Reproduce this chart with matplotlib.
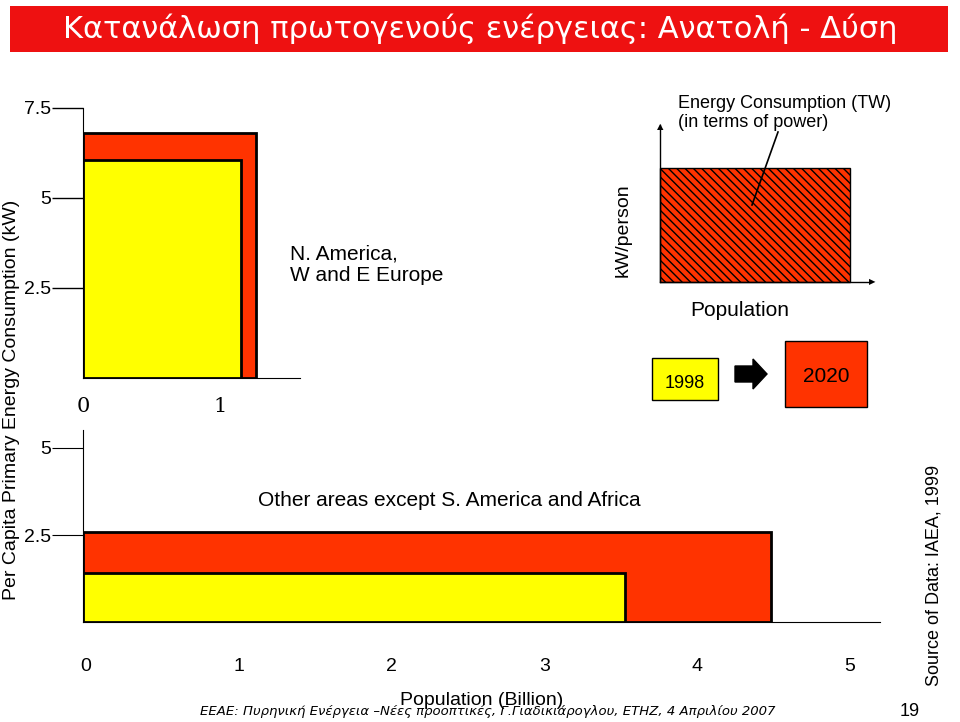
import matplotlib
matplotlib.use("Agg")
import matplotlib.pyplot as plt
from matplotlib.patches import Rectangle, FancyArrow
plt.rcParams["font.family"] = "Liberation Sans"

# data
top_red = (1.26, 6.8)      # width (billion), kW/person  (2020)
top_yel = (1.15, 6.05)     # 1998
bot_red = (4.48, 2.6)
bot_yel = (3.53, 1.4)
RED, YEL = "#ff3300", "#ffff00"

W, H = 960, 722
fig = plt.figure(figsize=(9.6, 7.22), dpi=100)
def fx(x): return x / W
def fy(y): return 1 - y / H

# title
fig.patches.append(Rectangle((fx(10), fy(52)), fx(938), 46 / H, transform=fig.transFigure,
                             facecolor="#ee1111", edgecolor="none"))
fig.text(fx(480), fy(29), "Κατανάλωση πρωτογενούς ενέργειας: Ανατολή - Δύση",
         color="white", fontsize=22, ha="center", va="center", family="DejaVu Sans")

# top axes
ax1 = fig.add_axes([fx(83), fy(378), fx(300 - 83), (378 - 108) / H])
ax1.set_xlim(0, (300 - 83) / 137)
ax1.set_ylim(0, 7.5)
ax1.add_patch(Rectangle((0, 0), *top_red, facecolor=RED, edgecolor="black", lw=2))
ax1.add_patch(Rectangle((0, 0), *top_yel, facecolor=YEL, edgecolor="black", lw=2))
ax1.set_yticks([2.5, 5, 7.5]); ax1.set_yticklabels(["2.5", "5", "7.5"], fontsize=14)
ax1.set_xticks([0, 1]); ax1.set_xticklabels(["0", "1"], fontsize=15, family="serif")
ax1.tick_params(axis="y", length=22, width=1, pad=1)
ax1.tick_params(axis="x", length=0, pad=14)
for s in ["top", "right"]: ax1.spines[s].set_visible(False)
ax1.patch.set_alpha(0)

# bottom axes
scale = 152.8
x0 = -3 / scale
ax2 = fig.add_axes([fx(83), fy(622), fx(880 - 83), (622 - 430) / H])
ax2.set_xlim(x0, (880 - 86) / scale)
ax2.set_ylim(0, (622 - 430) / 34.8)
ax2.add_patch(Rectangle((x0, 0), bot_red[0] - x0, bot_red[1], facecolor=RED, edgecolor="black", lw=2))
ax2.add_patch(Rectangle((x0, 0), bot_yel[0] - x0, bot_yel[1], facecolor=YEL, edgecolor="black", lw=2))
ax2.set_yticks([2.5, 5]); ax2.set_yticklabels(["2.5", "5"], fontsize=14)
ax2.set_xticks([0, 1, 2, 3, 4, 5]); ax2.set_xticklabels([str(i) for i in range(6)], fontsize=14)
ax2.tick_params(axis="y", length=22, pad=1)
ax2.tick_params(axis="x", length=0, pad=26)
for s in ["top", "right"]: ax2.spines[s].set_visible(False)
ax2.set_xlabel("Population (Billion)", fontsize=14, labelpad=12)
ax2.patch.set_alpha(0)

fig.text(fx(12), fy(400), "Per Capita Primary Energy Consumption (kW)", rotation=90,
         fontsize=14, ha="center", va="center")
fig.text(fx(290), fy(265), "N. America,\nW and E Europe", fontsize=15, ha="left", va="center", linespacing=1.2)
fig.text(fx(258), fy(500), "Other areas except S. America and Africa", fontsize=15, ha="left", va="center")

# schematic
fig.patches.append(Rectangle((fx(660), fy(282)), fx(190), 114 / H, transform=fig.transFigure,
                             facecolor=RED, edgecolor="black", hatch="\\\\\\\\", lw=1))
fig.add_artist(plt.Line2D([fx(660), fx(660)], [fy(282), fy(125)], color="black", lw=1, transform=fig.transFigure))
fig.add_artist(plt.Line2D([fx(660), fx(870)], [fy(282), fy(282)], color="black", lw=1, transform=fig.transFigure))
fig.text(fx(660), fy(127), "▲", fontsize=6, ha="center", va="center", family="DejaVu Sans")
fig.text(fx(872), fy(282), "▶", fontsize=6, ha="center", va="center", family="DejaVu Sans")
fig.text(fx(623), fy(230), "kW/person", rotation=90, fontsize=14, ha="center", va="center")
fig.text(fx(678), fy(113), "Energy Consumption (TW)\n(in terms of power)", fontsize=13, ha="left", va="center", linespacing=1.2)
fig.add_artist(plt.Line2D([fx(778), fx(752)], [fy(132), fy(205)], color="black", lw=1.2, transform=fig.transFigure))
fig.text(fx(740), fy(311), "Population", fontsize=15, ha="center", va="center")
fig.patches.append(Rectangle((fx(652), fy(400)), fx(66), 42 / H, transform=fig.transFigure,
                             facecolor=YEL, edgecolor="black", lw=1))
fig.text(fx(685), fy(383), "1998", fontsize=13, ha="center", va="center")
fig.patches.append(Rectangle((fx(785), fy(407)), fx(82), 66 / H, transform=fig.transFigure,
                             facecolor=RED, edgecolor="black", lw=1))
fig.text(fx(826), fy(376), "2020", fontsize=15, ha="center", va="center")
fig.patches.append(FancyArrow(fx(735), fy(374), fx(18), 0, width=16 / H, head_width=30 / H,
                              head_length=fx(14), transform=fig.transFigure, color="black"))

fig.text(fx(934), fy(575), "Source of Data: IAEA, 1999", rotation=90, fontsize=13, ha="center", va="center")
fig.text(fx(200), fy(712), "ΕΕΑΕ: Πυρηνική Ενέργεια –Νέες προοπτικές, Γ.Γιαδικιάρογλου, ΕΤΗΖ, 4 Απριλίου 2007",
         fontsize=9.5, style="italic", ha="left", va="center", family="DejaVu Sans")
fig.text(fx(910), fy(711), "19", fontsize=13, ha="center", va="center")

fig.savefig("out.png", dpi=100)
